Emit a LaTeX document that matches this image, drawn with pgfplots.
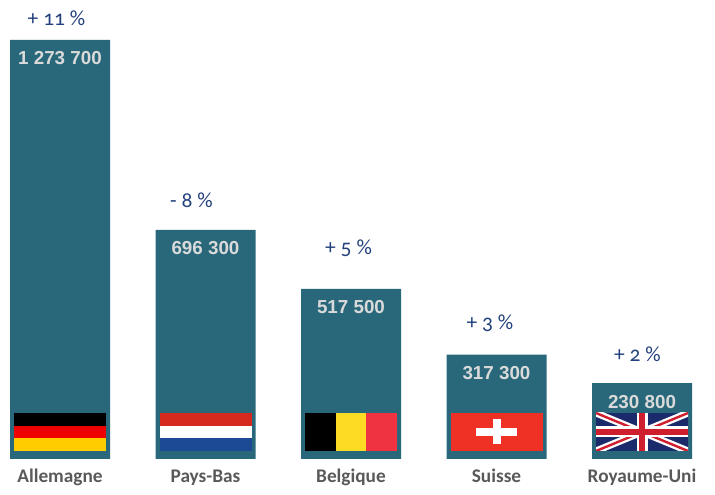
\documentclass[border=0pt]{standalone}
\usepackage{pgfplots}
\pgfplotsset{compat=1.18}
\usepackage{fontspec}
\setmainfont{Liberation Sans}
\newfontfamily\catfont{Carlito}
\newfontfamily\pctfont[Numbers=OldStyle]{Carlito}
\definecolor{barcol}{HTML}{28687A}
\definecolor{valcol}{HTML}{DADADA}
\definecolor{catcol}{HTML}{595959}
\definecolor{pctcol}{HTML}{22407C}
\definecolor{deblack}{HTML}{000000}
\definecolor{dered}{HTML}{EE0000}
\definecolor{degold}{HTML}{FFCC00}
\definecolor{nlred}{HTML}{D72A1F}
\definecolor{nlblue}{HTML}{1D4A94}
\definecolor{beyellow}{HTML}{FDDA24}
\definecolor{bered}{HTML}{EF3340}
\definecolor{chred}{HTML}{EE3124}
\definecolor{ukblue}{HTML}{1B2A6B}
\definecolor{ukred}{HTML}{CF1F2E}
\begin{document}
\begin{tikzpicture}
\begin{axis}[
  scale only axis, width=715pt, height=495pt,
  xmin=-0.41237, xmax=4.50172,
  ymin=-109435, ymax=1395296,
  axis x line=middle, axis y line=none,
  x axis line style={draw=none},
  xtick={0,1,2,3,4},
  xticklabels={Allemagne,Pays-Bas,Belgique,Suisse,Royaume-Uni},
  xtick style={draw=none},
  xticklabel style={font=\catfont\bfseries\fontsize{19.3}{21}\selectfont, text=catcol, anchor=base, yshift=-21.7pt},
  ytick=\empty,
  clip=false,
]
\path (rel axis cs:0,0) rectangle (rel axis cs:1,1);
\addplot[ybar, bar width=100pt, fill=barcol, draw=none,
  nodes near coords={\pgfmathprintnumber[fixed,precision=0,1000 sep={\ },assume math mode=true]{\pgfplotspointmeta}},
  nodes near coords align=center,
  every node near coord/.append style={anchor=center, yshift=-18.5pt, font=\bfseries\fontsize{18.8}{20}\selectfont, text=valcol}]
  coordinates {(0,1273700) (1,696300) (2,517500) (3,317300) (4,230800)};
\addplot[draw=none, mark=none, nodes near coords, point meta=explicit symbolic,
  nodes near coords align=center,
  every node near coord/.append style={anchor=center, font=\pctfont\fontsize{21.5}{23}\selectfont, text=pctcol}]
  coordinates {(-0.024,1340578) [+ 11 \%] (0.904,785196) [- 8 \%] (1.983,641410) [+ 5 \%] (2.955,413421) [+ 3 \%] (3.969,319185) [+ 2 \%]};
% Germany
\begin{scope}[shift={(axis cs:0,0)}]
  \fill[degold] (-46pt,8pt) rectangle (46pt,20.67pt);
  \fill[dered] (-46pt,20.67pt) rectangle (46pt,33.33pt);
  \fill[deblack] (-46pt,33.33pt) rectangle (46pt,46pt);
\end{scope}
% Netherlands
\begin{scope}[shift={(axis cs:1,0)}]
  \fill[nlblue] (-46pt,8pt) rectangle (46pt,20.67pt);
  \fill[white] (-46pt,20.67pt) rectangle (46pt,33.33pt);
  \fill[nlred] (-46pt,33.33pt) rectangle (46pt,46pt);
\end{scope}
% Belgium
\begin{scope}[shift={(axis cs:2,0)}]
  \fill[black] (-46pt,8pt) rectangle (-15.33pt,46pt);
  \fill[beyellow] (-15.33pt,8pt) rectangle (15.33pt,46pt);
  \fill[bered] (15.33pt,8pt) rectangle (46pt,46pt);
\end{scope}
% Switzerland
\begin{scope}[shift={(axis cs:3,0)}]
  \fill[chred] (-46pt,8pt) rectangle (46pt,46pt);
  \fill[white] (-20.5pt,23pt) rectangle (20.5pt,31pt);
  \fill[white] (-4pt,14.5pt) rectangle (4pt,39.5pt);
\end{scope}
% United Kingdom
\begin{scope}[shift={(axis cs:4,0)}]
  \clip (-46pt,8pt) rectangle (46pt,46pt);
  \fill[ukblue] (-46pt,8pt) rectangle (46pt,46pt);
  \draw[white, line width=7pt] (-46pt,8pt) -- (46pt,46pt) (-46pt,46pt) -- (46pt,8pt);
  \draw[ukred, line width=2.4pt] (-46pt,8pt) -- (46pt,46pt) (-46pt,46pt) -- (46pt,8pt);
  \draw[white, line width=11pt] (0pt,8pt) -- (0pt,46pt) (-46pt,27pt) -- (46pt,27pt);
  \draw[ukred, line width=6.5pt] (0pt,8pt) -- (0pt,46pt) (-46pt,27pt) -- (46pt,27pt);
\end{scope}
\end{axis}
\end{tikzpicture}
\end{document}
